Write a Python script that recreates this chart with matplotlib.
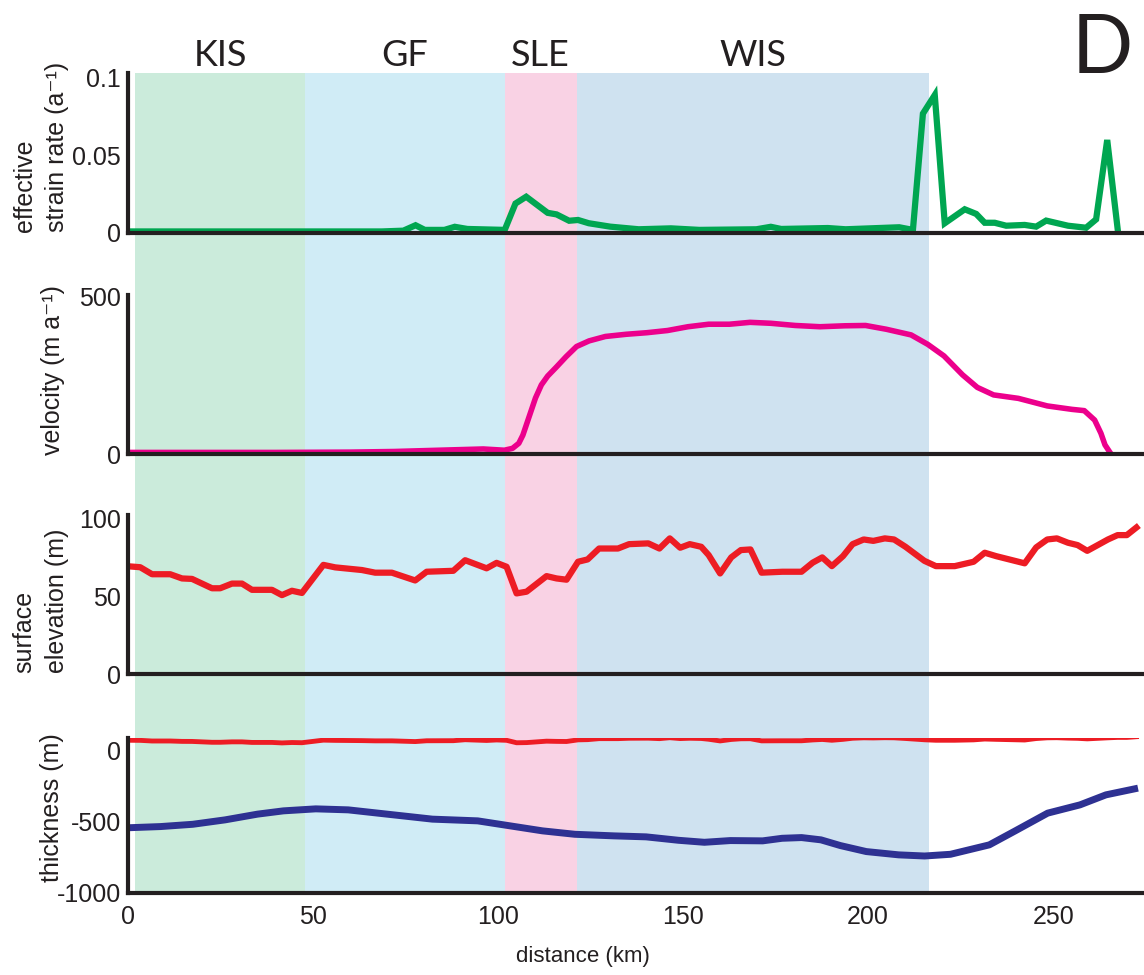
import matplotlib
matplotlib.use('Agg')
import matplotlib.pyplot as plt
from matplotlib.transforms import blended_transform_factory

plt.rcParams['font.family'] = ['Liberation Sans', 'DejaVu Sans']
plt.rcParams['axes.unicode_minus'] = False

# ice-stream regions along the profile (km)
regions = ['KIS', 'GF', 'SLE', 'WIS']
region_start = [1.9, 47.8, 101.8, 121.2]
region_end = [47.8, 101.8, 121.2, 216.5]
region_colors = ['#cbebdb', '#d0ecf6', '#f9d2e4', '#cfe2f0']

# effective strain rate (a^-1)
strain_km = [0, 68.6, 74.4, 77.7, 80.2, 85.5, 88.3, 91.7, 101.8, 104.7,
             107.6, 113.4, 115.8, 119.2, 121.6, 124.5, 130.3, 138, 146.7, 154.4,
             169.8, 173.7, 176.5, 189.1, 193.9, 208.4, 212.1, 214.8, 218, 220.7,
             226.1, 229.2, 231.5, 234.2, 237.3, 242.3, 245.4, 248.1, 254, 258.9,
             261.6, 264.6, 267.5]
strain = [0.001, 0.001, 0.0015, 0.005, 0.002, 0.002, 0.004, 0.0026, 0.002, 0.019,
          0.0234, 0.013, 0.012, 0.0079, 0.0084, 0.0063, 0.0041, 0.0024, 0.003, 0.002,
          0.0024, 0.004, 0.0026, 0.0032, 0.0024, 0.0037, 0.002, 0.077, 0.089, 0.0063,
          0.0153, 0.0123, 0.0066, 0.0066, 0.0047, 0.0052, 0.0041, 0.008, 0.0047, 0.0034,
          0.0088, 0.06, 0.001]

# surface velocity (m a^-1)
vel_km = [0, 40, 60, 72, 84, 96, 101.7, 103.9, 105.6, 106.7,
          108.4, 110.1, 111.7, 113.4, 115.7, 118.4, 121.2, 124.6, 129, 134.6,
          140.2, 145.8, 151.3, 156.9, 162.5, 168.1, 173.7, 180.3, 187, 193.7,
          199.3, 204.9, 211.6, 216.1, 220.5, 225.5, 229.5, 233.9, 240.6, 248.4,
          255.1, 258.4, 261.2, 262.9, 264, 265.4]
vel = [5, 5, 6, 8, 12, 16, 12, 18, 34, 60,
       119, 178, 220, 248, 276, 310, 342, 360, 374, 381,
       386, 393, 405, 413, 413, 419, 416, 409, 405, 408,
       409, 397, 379, 349, 312, 252, 212, 188, 177, 153,
       142, 138, 108, 66, 29, 4]

# surface elevation (m)
surf_km = [0.6, 3.3, 6.5, 11.4, 14.6, 17.3, 22.7, 24.9, 28.1, 30.8,
           33.5, 38.9, 41.6, 44.3, 47, 52.8, 56, 63.2, 66.8, 71.3,
           77.6, 80.7, 87.9, 91.1, 96.9, 99.6, 102.3, 105, 107.7, 113.1,
           115.8, 118.5, 121.6, 124.2, 127.3, 132.4, 135.4, 140.6, 143.6, 146.4,
           149.2, 151.8, 154.9, 156.9, 160, 163, 165.6, 168.2, 171.2, 176.8,
           182, 185, 187.6, 190.2, 193.2, 195.8, 198.8, 201.4, 204.5, 207,
           210.1, 215.2, 218.3, 223.4, 228.5, 231.5, 234.6, 242.3, 245.4, 248.4,
           251, 254, 256.6, 259.2, 264.8, 267.4, 269.9, 272.5]
surf = [69, 68.5, 64, 64, 61.3, 61, 55, 55, 58, 58,
        54, 54, 50.6, 53.4, 52, 70, 68.4, 66.7, 65, 65,
        60, 65.6, 66.2, 73, 67.8, 71.3, 68.8, 51.7, 52.8, 62.8,
        61.3, 60.5, 72, 73.5, 80.5, 80.5, 83.3, 83.8, 80.5, 87,
        81, 83.3, 81.6, 76.3, 64.5, 74.8, 79.5, 79.9, 65, 65.6,
        65.6, 71.4, 74.8, 69.2, 75.6, 83.3, 86.3, 85.4, 87, 86.3,
        81.6, 72.6, 69.2, 69.2, 72, 77.8, 75.6, 71, 81.2, 86.3,
        87, 84.2, 82.7, 79, 86.3, 89.1, 89.1, 94]

# ice base (m)
base_km = [1.4, 8.75, 17.5, 26.25, 35, 42, 50.75, 59.5, 70, 82.25,
           94.5, 101.5, 112, 120.75, 131.25, 140, 148.75, 155.75, 162.75, 171.5,
           176.75, 182, 187.25, 192.5, 199.5, 208.25, 215.25, 222.25, 232.75, 239.75,
           248.5, 257.25, 264.25, 272]
base = [-542, -535, -519, -488, -448, -425, -411, -418, -448, -483,
        -495, -523, -565, -589, -600, -607, -631, -645, -633, -635,
        -617, -612, -628, -668, -710, -733, -741, -729, -663, -565,
        -441, -383, -313, -271]

xmax = 274
W, H = 1144, 975
fig = plt.figure(figsize=(W / 100, H / 100), dpi=100)

left = 128 / W
width = (1142 - 128) / W

def box(top_px, bot_px):
    return [left, 1 - bot_px / H, width, (bot_px - top_px) / H]

# background with the shaded regions, behind every panel
ax_bg = fig.add_axes(box(73, 891), zorder=-1)
ax_bg.set_xlim(0, xmax)
ax_bg.set_ylim(0, 1)
ax_bg.axis('off')
for s, e, c in zip(region_start, region_end, region_colors):
    ax_bg.axvspan(s, e, color=c, lw=0)

tr = blended_transform_factory(ax_bg.transData, fig.transFigure)
for name, s, e in zip(regions, region_start, region_end):
    ax_bg.text((s + e) / 2, 1 - 56 / H, name, transform=tr, ha='center', va='center',
               fontsize=26, family='Lato', color='#231f20')
fig.text(1102 / W, 1 - 50 / H, 'D', ha='center', va='center', fontsize=58,
         family='Lato', color='#231f20')

ax1 = fig.add_axes(box(73, 233))
ax2 = fig.add_axes(box(295, 454))
ax3 = fig.add_axes(box(515, 674))
ax4 = fig.add_axes(box(738, 893))

ax1.plot(strain_km, strain, color='#00a651', lw=4.5, solid_joinstyle='miter')
ax1.set_ylim(0, 0.1032)
ax1.set_yticks([0, 0.05, 0.1])
ax1.set_yticklabels(['0', '0.05', '0.1'])

ax2.plot(vel_km, vel, color='#ec008c', lw=4)
ax2.set_ylim(0, 506)
ax2.set_yticks([0, 500])

ax3.plot(surf_km, surf, color='#ed1c24', lw=4.5)
ax3.set_ylim(0, 102)
ax3.set_yticks([0, 50, 100])

ax4.plot(surf_km, surf, color='#ed1c24', lw=3.5)
ax4.plot(base_km, base, color='#2e3192', lw=5)
ax4.set_ylim(-1000, 85)
ax4.set_yticks([0, -500, -1000])
ax4.set_xticks([0, 50, 100, 150, 200, 250])
ax4.set_xlabel('distance (km)', fontsize=16, color='#231f20')
ax4.xaxis.set_label_coords((583 - 128) / (1142 - 128), -0.34)

for ax in [ax1, ax2, ax3, ax4]:
    ax.set_facecolor('none')
    ax.set_xlim(0, xmax)
    for side in ['top', 'right']:
        ax.spines[side].set_visible(False)
    for side in ['left', 'bottom']:
        ax.spines[side].set_linewidth(3)
        ax.spines[side].set_color('#231f20')
        ax.spines[side].set_capstyle('projecting')
    ax.tick_params(length=0, labelsize=18, colors='#231f20', pad=5)
    ax.tick_params(axis='x', pad=9)
    if ax is not ax4:
        ax.set_xticks([])

# y labels, placed like the original
fig.text(41 / W, 1 - 232 / H, 'effective\nstrain rate (a\u207b\u00b9)', rotation=90,
         ha='center', va='bottom', multialignment='left', fontsize=18,
         linespacing=1.45, color='#231f20')
fig.text(53 / W, 1 - 455 / H, 'velocity (m a\u207b\u00b9)', rotation=90,
         ha='center', va='bottom', fontsize=18, color='#231f20')
fig.text(41 / W, 1 - 673 / H, 'surface\nelevation (m)', rotation=90,
         ha='center', va='bottom', multialignment='left', fontsize=18,
         linespacing=1.45, color='#231f20')
fig.text(52 / W, 1 - 882 / H, 'thickness (m)', rotation=90,
         ha='center', va='bottom', fontsize=18, color='#231f20')

fig.savefig('out.png', dpi=100)
